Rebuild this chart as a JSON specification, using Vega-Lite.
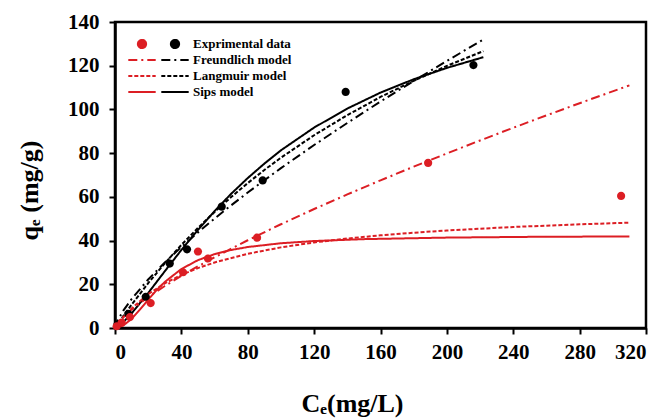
{
  "$schema": "https://vega.github.io/schema/vega-lite/v6.json",
  "autosize": "none",
  "padding": {"left": 115, "top": 22, "right": 20, "bottom": 90},
  "width": 531,
  "height": 306,
  "background": "white",
  "config": {
    "view": {"stroke": "black", "strokeWidth": 2.5},
    "font": "Liberation Serif",
    "axis": {
      "grid": false,
      "domainColor": "black",
      "domainWidth": 2.5,
      "tickColor": "black",
      "tickWidth": 2,
      "tickSize": 6,
      "labelFont": "Liberation Serif",
      "labelFontWeight": "bold",
      "labelFontSize": 21,
      "labelColor": "black",
      "titleFont": "Liberation Serif",
      "titleFontWeight": "bold",
      "titleFontSize": 26,
      "titleColor": "black"
    }
  },
  "datasets": {
    "curves": [
      {"series": "B-Freundlich", "C": 0, "q": 0}, {"series": "B-Freundlich", "C": 1, "q": 2.41}, {"series": "B-Freundlich", "C": 2, "q": 4.03}, {"series": "B-Freundlich", "C": 5, "q": 7.94}, {"series": "B-Freundlich", "C": 10, "q": 13.27}, {"series": "B-Freundlich", "C": 20, "q": 22.18}, {"series": "B-Freundlich", "C": 30, "q": 29.96}, {"series": "B-Freundlich", "C": 40, "q": 37.08}, {"series": "B-Freundlich", "C": 50, "q": 43.75}, {"series": "B-Freundlich", "C": 60, "q": 50.07}, {"series": "B-Freundlich", "C": 70, "q": 56.13}, {"series": "B-Freundlich", "C": 80, "q": 61.97}, {"series": "B-Freundlich", "C": 90, "q": 67.62}, {"series": "B-Freundlich", "C": 100, "q": 73.13}, {"series": "B-Freundlich", "C": 120, "q": 83.71}, {"series": "B-Freundlich", "C": 140, "q": 93.82}, {"series": "B-Freundlich", "C": 160, "q": 103.6}, {"series": "B-Freundlich", "C": 180, "q": 113.0}, {"series": "B-Freundlich", "C": 200, "q": 122.2}, {"series": "B-Freundlich", "C": 222, "q": 132.0},
      {"series": "B-Langmuir", "C": 0, "q": 0}, {"series": "B-Langmuir", "C": 5, "q": 5.45}, {"series": "B-Langmuir", "C": 10, "q": 10.67}, {"series": "B-Langmuir", "C": 20, "q": 20.5}, {"series": "B-Langmuir", "C": 30, "q": 29.6}, {"series": "B-Langmuir", "C": 40, "q": 38.0}, {"series": "B-Langmuir", "C": 50, "q": 45.8}, {"series": "B-Langmuir", "C": 60, "q": 53.1}, {"series": "B-Langmuir", "C": 70, "q": 59.9}, {"series": "B-Langmuir", "C": 80, "q": 66.3}, {"series": "B-Langmuir", "C": 90, "q": 72.3}, {"series": "B-Langmuir", "C": 100, "q": 77.9}, {"series": "B-Langmuir", "C": 120, "q": 88.2}, {"series": "B-Langmuir", "C": 140, "q": 97.4}, {"series": "B-Langmuir", "C": 160, "q": 105.7}, {"series": "B-Langmuir", "C": 180, "q": 113.1}, {"series": "B-Langmuir", "C": 200, "q": 119.9}, {"series": "B-Langmuir", "C": 222, "q": 126.7},
      {"series": "B-Sips", "C": 0, "q": 0}, {"series": "B-Sips", "C": 5, "q": 2.69}, {"series": "B-Sips", "C": 10, "q": 6.68}, {"series": "B-Sips", "C": 20, "q": 16.0}, {"series": "B-Sips", "C": 30, "q": 25.96}, {"series": "B-Sips", "C": 40, "q": 35.7}, {"series": "B-Sips", "C": 50, "q": 44.9}, {"series": "B-Sips", "C": 60, "q": 53.5}, {"series": "B-Sips", "C": 70, "q": 61.4}, {"series": "B-Sips", "C": 80, "q": 68.6}, {"series": "B-Sips", "C": 90, "q": 75.2}, {"series": "B-Sips", "C": 100, "q": 81.3}, {"series": "B-Sips", "C": 120, "q": 91.7}, {"series": "B-Sips", "C": 140, "q": 100.4}, {"series": "B-Sips", "C": 160, "q": 107.7}, {"series": "B-Sips", "C": 180, "q": 113.8}, {"series": "B-Sips", "C": 200, "q": 119.0}, {"series": "B-Sips", "C": 222, "q": 123.9},
      {"series": "R-Freundlich", "C": 0, "q": 0}, {"series": "R-Freundlich", "C": 1, "q": 1.49}, {"series": "R-Freundlich", "C": 2, "q": 2.51}, {"series": "R-Freundlich", "C": 5, "q": 5.0}, {"series": "R-Freundlich", "C": 10, "q": 8.42}, {"series": "R-Freundlich", "C": 20, "q": 14.18}, {"series": "R-Freundlich", "C": 30, "q": 19.21}, {"series": "R-Freundlich", "C": 40, "q": 23.85}, {"series": "R-Freundlich", "C": 50, "q": 28.21}, {"series": "R-Freundlich", "C": 60, "q": 32.35}, {"series": "R-Freundlich", "C": 80, "q": 40.14}, {"series": "R-Freundlich", "C": 100, "q": 47.47}, {"series": "R-Freundlich", "C": 120, "q": 54.43}, {"series": "R-Freundlich", "C": 140, "q": 61.1}, {"series": "R-Freundlich", "C": 160, "q": 67.56}, {"series": "R-Freundlich", "C": 180, "q": 73.8}, {"series": "R-Freundlich", "C": 200, "q": 79.88}, {"series": "R-Freundlich", "C": 220, "q": 85.8}, {"series": "R-Freundlich", "C": 240, "q": 91.6}, {"series": "R-Freundlich", "C": 260, "q": 97.27}, {"series": "R-Freundlich", "C": 280, "q": 102.85}, {"series": "R-Freundlich", "C": 310, "q": 111.0},
      {"series": "R-Langmuir", "C": 0, "q": 0}, {"series": "R-Langmuir", "C": 5, "q": 4.87}, {"series": "R-Langmuir", "C": 10, "q": 8.97}, {"series": "R-Langmuir", "C": 20, "q": 15.48}, {"series": "R-Langmuir", "C": 30, "q": 20.42}, {"series": "R-Langmuir", "C": 40, "q": 24.29}, {"series": "R-Langmuir", "C": 50, "q": 27.41}, {"series": "R-Langmuir", "C": 60, "q": 29.98}, {"series": "R-Langmuir", "C": 80, "q": 33.95}, {"series": "R-Langmuir", "C": 100, "q": 36.89}, {"series": "R-Langmuir", "C": 120, "q": 39.15}, {"series": "R-Langmuir", "C": 140, "q": 40.94}, {"series": "R-Langmuir", "C": 160, "q": 42.39}, {"series": "R-Langmuir", "C": 180, "q": 43.59}, {"series": "R-Langmuir", "C": 200, "q": 44.61}, {"series": "R-Langmuir", "C": 240, "q": 46.22}, {"series": "R-Langmuir", "C": 280, "q": 47.44}, {"series": "R-Langmuir", "C": 310, "q": 48.18},
      {"series": "R-Sips", "C": 0, "q": 0}, {"series": "R-Sips", "C": 5, "q": 1.13}, {"series": "R-Sips", "C": 10, "q": 4.2}, {"series": "R-Sips", "C": 15, "q": 8.41}, {"series": "R-Sips", "C": 20, "q": 12.94}, {"series": "R-Sips", "C": 25, "q": 17.25}, {"series": "R-Sips", "C": 30, "q": 21.07}, {"series": "R-Sips", "C": 40, "q": 26.99}, {"series": "R-Sips", "C": 50, "q": 31.04}, {"series": "R-Sips", "C": 60, "q": 33.79}, {"series": "R-Sips", "C": 70, "q": 35.69}, {"series": "R-Sips", "C": 80, "q": 37.05}, {"series": "R-Sips", "C": 100, "q": 38.78}, {"series": "R-Sips", "C": 120, "q": 39.79}, {"series": "R-Sips", "C": 150, "q": 40.66}, {"series": "R-Sips", "C": 200, "q": 41.36}, {"series": "R-Sips", "C": 250, "q": 41.7}, {"series": "R-Sips", "C": 310, "q": 41.9}
    ],
    "points": [
      {"series": "B-Exp", "C": 1.5, "q": 1.5}, {"series": "B-Exp", "C": 8, "q": 6.5}, {"series": "B-Exp", "C": 18.5, "q": 14.3}, {"series": "B-Exp", "C": 33, "q": 29.5}, {"series": "B-Exp", "C": 43.4, "q": 36}, {"series": "B-Exp", "C": 64.3, "q": 55.5}, {"series": "B-Exp", "C": 89, "q": 67.5}, {"series": "B-Exp", "C": 139, "q": 108}, {"series": "B-Exp", "C": 216, "q": 120.3},
      {"series": "R-Exp", "C": 1, "q": 0.8}, {"series": "R-Exp", "C": 4, "q": 2.5}, {"series": "R-Exp", "C": 9, "q": 5}, {"series": "R-Exp", "C": 21.5, "q": 11.4}, {"series": "R-Exp", "C": 41, "q": 25.5}, {"series": "R-Exp", "C": 50, "q": 35}, {"series": "R-Exp", "C": 56, "q": 31.8}, {"series": "R-Exp", "C": 85.6, "q": 41.3}, {"series": "R-Exp", "C": 188.7, "q": 75.5}, {"series": "R-Exp", "C": 305, "q": 60.4}
    ]
  },
  "layer": [
    {
      "data": {"name": "curves"},
      "mark": {"type": "line", "strokeWidth": 2, "clip": true},
      "encoding": {
        "x": {"field": "C", "type": "quantitative", "scale": {"domain": [0, 320], "nice": false}, "axis": {"values": [0, 40, 80, 120, 160, 200, 240, 280, 320], "title": "Cₑ(mg/L)", "labelPadding": 7, "titlePadding": 28, "titleX": 237}},
        "y": {"field": "q", "type": "quantitative", "scale": {"domain": [0, 140], "nice": false}, "axis": {"values": [0, 20, 40, 60, 80, 100, 120, 140], "title": "qₑ (mg/g)", "labelPadding": 10, "titlePadding": 25, "titleY": 168}},
        "color": {"field": "series", "type": "nominal",
          "scale": {"domain": ["R-Exp", "B-Exp", "R-Freundlich", "B-Freundlich", "R-Langmuir", "B-Langmuir", "R-Sips", "B-Sips"], "range": ["#dc1e24", "black", "#dc1e24", "black", "#dc1e24", "black", "#dc1e24", "black"]},
          "legend": {
            "title": null, "orient": "none", "legendX": 12, "legendY": 15, "columns": 2, "direction": "horizontal", "columnPadding": -4, "rowPadding": 2, "padding": 0, "clipHeight": 14,
            "symbolSize": 750, "symbolStrokeWidth": 2, "labelOffset": 3,
            "labelFont": "Liberation Serif", "labelFontWeight": "bold", "labelFontSize": 13, "labelColor": "black",
            "labelExpr": "indexof(datum.value, 'R-') === 0 ? '' : (datum.value === 'B-Exp' ? 'Exprimental data' : slice(datum.value, 2) + ' model')"
          }
        },
        "strokeDash": {"field": "series", "type": "nominal",
          "scale": {"domain": ["R-Exp", "B-Exp", "R-Freundlich", "B-Freundlich", "R-Langmuir", "B-Langmuir", "R-Sips", "B-Sips"], "range": [[1, 0], [1, 0], [9, 4, 2, 4], [9, 4, 2, 4], [4, 2], [4, 2], [1, 0], [1, 0]]}}
      }
    },
    {
      "data": {"name": "points"},
      "mark": {"type": "point", "filled": true, "opacity": 1, "size": 750, "strokeWidth": 0},
      "encoding": {
        "x": {"field": "C", "type": "quantitative"},
        "y": {"field": "q", "type": "quantitative"},
        "color": {"field": "series", "type": "nominal"},
        "shape": {"field": "series", "type": "nominal",
          "scale": {"domain": ["R-Exp", "B-Exp", "R-Freundlich", "B-Freundlich", "R-Langmuir", "B-Langmuir", "R-Sips", "B-Sips"], "range": ["M0.3,0A0.3,0.3,0,1,1,-0.3,0A0.3,0.3,0,1,1,0.3,0Z", "M0.3,0A0.3,0.3,0,1,1,-0.3,0A0.3,0.3,0,1,1,0.3,0Z", "stroke", "stroke", "stroke", "stroke", "stroke", "stroke"]}}
      }
    }
  ]
}
